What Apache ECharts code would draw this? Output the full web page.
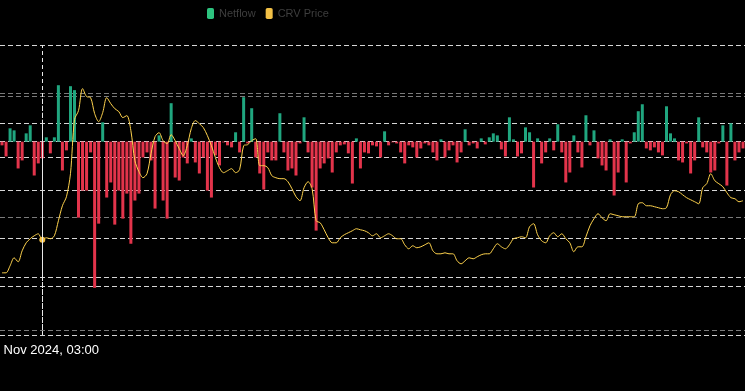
<!DOCTYPE html>
<html><head><meta charset="utf-8">
<script src="https://cdn.jsdelivr.net/npm/echarts@6/dist/echarts.min.js"></script>
<style>html,body{margin:0;padding:0;background:#000;overflow:hidden;}#c{width:775px;height:391px;margin-left:-30px;}</style>
</head><body><div id="c"></div>
<script>
// ---- data ----
const START_UTC = Date.UTC(2024, 10, 20, 17, 0); // first hourly bucket
const HOVER_INDEX = 10;
const seriesNames = ['Netflow', 'CRV Price'];
const netflow = [
-0.38,-1.53,1.38,1.17,-2.77,-1.94,0.86,1.69,-3.50,-2.25,
-1.73,0.45,-1.21,0.45,5.84,-2.98,-0.90,5.74,5.33,-7.86,
-5.06,-5.06,-1.11,-15.12,-8.48,2.00,-5.78,-4.22,-8.58,-5.06,
-7.96,-5.37,-10.56,-6.09,-5.37,-1.63,-1.11,-1.94,-6.92,0.65,
-6.09,-7.96,3.98,-3.71,-4.02,-1.63,-2.25,0.34,-2.15,-3.29,
-1.63,-5.06,-5.78,-1.42,-2.46,-0.07,-0.38,-0.59,0.97,-1.11,
4.60,-0.18,3.46,-1.63,-3.29,-4.95,-1.11,-1.94,-1.94,2.94,
-1.11,-2.98,-2.77,-3.50,-0.18,2.52,-1.11,-4.74,-9.20,-2.77,
-2.25,-1.73,-3.19,-1.11,-0.38,-0.28,-1.21,-4.33,0.34,-2.77,
-1.11,-1.21,-0.38,-0.49,-1.63,1.07,-0.38,-0.07,-0.18,-1.11,
-2.25,-0.38,-0.59,-1.63,-0.70,-0.18,-0.38,-1.11,-1.94,0.24,
-1.63,-0.90,-0.38,-2.15,-1.11,1.28,-0.38,-0.18,-0.70,0.34,
-0.28,0.45,0.86,0.65,-0.80,-1.53,2.52,0.24,-1.53,-1.21,
1.48,0.97,-4.74,0.34,-2.25,-1.11,0.34,-0.90,1.80,-1.11,
-4.22,-3.19,0.65,-1.11,-2.67,2.73,-0.38,1.17,-1.73,-2.46,
-2.98,0.24,-5.57,-3.19,0.24,-4.22,-0.18,0.97,3.15,3.87,
-0.70,-0.90,-0.59,-1.11,-1.42,3.66,0.86,0.34,-1.94,-2.15,
-0.18,-3.29,-1.94,2.52,-0.59,-1.11,-3.19,-2.98,-0.18,1.69,
-4.54,1.90,-1.94,-1.11,-0.70
];
const price = [
0.3094,0.3094,0.3210,0.3342,0.3276,0.3458,0.3590,0.3657,0.3706,0.3739,
0.3640,0.3673,0.3657,0.3706,0.3954,0.4202,0.4351,0.4731,0.5624,0.5773,
0.6137,0.6005,0.5988,0.5724,0.5591,0.5740,0.5988,0.5889,0.5806,0.5757,
0.5658,0.5691,0.5443,0.4946,0.4765,0.4665,0.4731,0.5062,0.5343,0.5409,
0.5277,0.5228,0.5376,0.5277,0.5145,0.5029,0.5194,0.5476,0.5608,0.5558,
0.5492,0.5360,0.5194,0.4996,0.4831,0.4748,0.4781,0.4814,0.4748,0.4798,
0.5194,0.5211,0.5277,0.5310,0.4864,0.4864,0.4831,0.4698,0.4665,0.4649,
0.4649,0.4599,0.4483,0.4351,0.4285,0.4500,0.4599,0.4483,0.3954,0.3921,
0.3805,0.3673,0.3590,0.3590,0.3673,0.3723,0.3756,0.3789,0.3822,0.3805,
0.3789,0.3756,0.3706,0.3739,0.3673,0.3706,0.3739,0.3706,0.3657,0.3657,
0.3557,0.3491,0.3541,0.3508,0.3524,0.3557,0.3590,0.3458,0.3408,0.3408,
0.3425,0.3408,0.3408,0.3293,0.3243,0.3293,0.3342,0.3326,0.3359,0.3392,
0.3408,0.3408,0.3491,0.3574,0.3524,0.3491,0.3557,0.3657,0.3673,0.3690,
0.3673,0.3855,0.3905,0.3723,0.3623,0.3590,0.3706,0.3756,0.3690,0.3739,
0.3657,0.3590,0.3442,0.3524,0.3524,0.3690,0.3871,0.3987,0.4070,0.4004,
0.3954,0.4070,0.4053,0.4037,0.4020,0.4020,0.4020,0.4020,0.4235,0.4252,
0.4202,0.4202,0.4186,0.4169,0.4153,0.4169,0.4384,0.4450,0.4434,0.4384,
0.4335,0.4301,0.4268,0.4235,0.4500,0.4566,0.4731,0.4616,0.4566,0.4516,
0.4417,0.4335,0.4318,0.4268,0.4285
];
const MONTHS = ['Jan','Feb','Mar','Apr','May','Jun','Jul','Aug','Sep','Oct','Nov','Dec'];
function pad(n){return (n<10?'0':'')+n;}
function fmtTime(ts){const d=new Date(ts);return d.getUTCDate()+' '+MONTHS[d.getUTCMonth()]+' '+d.getUTCFullYear()+', '+pad(d.getUTCHours())+':'+pad(d.getUTCMinutes());}
const categories = netflow.map((_, i) => fmtTime(START_UTC + i * 3600000));

// ---- styles ----
const OFF = 30; // chart canvas extends 30px past the left edge of the window (reference is a crop)
const GREEN = '#20a67f', GREEN_LEGEND = '#2dc37f', RED = '#e3344b', YELLOW = '#f2c046';
const BRIGHT = '#d6d6d6', DIM = '#7a7a7a';
const FONT = '"Liberation Sans", Arial, sans-serif';
const hiddenAxisParts = {axisLine:{show:false}, axisTick:{show:false}, axisLabel:{show:false}};

const chart = echarts.init(document.getElementById('c'), null, {renderer:'canvas'});
chart.setOption({
  backgroundColor: '#000',
  animation: false,
  legend: {
    left: 207 + OFF, top: 8, padding: 0, itemWidth: 7, itemHeight: 11, itemGap: 10, icon: 'roundRect',
    textStyle: {color: '#3e3e3e', fontSize: 11, fontFamily: FONT},
    data: [
      {name: seriesNames[0], itemStyle: {color: GREEN_LEGEND}},
      {name: seriesNames[1], itemStyle: {color: YELLOW}}
    ]
  },
  tooltip: {
    trigger: 'axis', showContent: false,
    axisPointer: {type: 'line', lineStyle: {color: '#e8e8e8', width: 1, type: [4, 3]}}
  },
  grid: [
    {left: OFF, right: 0, top: 45, bottom: 56},
    {left: OFF, right: 0, top: 96.7, bottom: 113.3},
    {left: OFF, right: 0, top: 123.3, bottom: 61}
  ],
  xAxis: [
    {type: 'category', gridIndex: 0, data: categories, boundaryGap: true, ...hiddenAxisParts,
     splitLine: {show: false},
     axisPointer: {label: {show: true, color: '#fff', backgroundColor: 'transparent', padding: 0, margin: 9,
       fontSize: 13, fontFamily: FONT}}},
    {type: 'value', gridIndex: 1, min: 0, max: 1, show: false},
    {type: 'value', gridIndex: 2, min: 0, max: 1, show: false}
  ],
  yAxis: [
    {type: 'value', gridIndex: 0, min: -20, max: 10, interval: 5, ...hiddenAxisParts,
     axisPointer: {show: false},
     splitLine: {show: true, lineStyle: {color: [BRIGHT, BRIGHT, BRIGHT, BRIGHT, BRIGHT, DIM, BRIGHT], type: [5, 3], width: 1}}},
    {type: 'value', gridIndex: 0, min: 0.2067, max: 0.6857, show: false, splitLine: {show: false}, axisPointer: {show: false}},
    {type: 'value', gridIndex: 1, min: 0, max: 3, interval: 1, ...hiddenAxisParts,
     splitLine: {show: true, lineStyle: {color: [BRIGHT, DIM, BRIGHT, DIM], type: [5, 3], width: 1}}},
    {type: 'value', gridIndex: 2, min: 0, max: 1, interval: 1, ...hiddenAxisParts,
     splitLine: {show: true, lineStyle: {color: [DIM, BRIGHT], type: [5, 3], width: 1}}}
  ],
  series: [
    {name: seriesNames[0], type: 'bar', xAxisIndex: 0, yAxisIndex: 0, barWidth: 3,
     itemStyle: {color: GREEN}, emphasis: {disabled: true},
     data: netflow.map(v => ({value: v, itemStyle: {color: v >= 0 ? GREEN : RED}}))},
    {name: seriesNames[1], type: 'line', xAxisIndex: 0, yAxisIndex: 1, data: price,
     smooth: 0.3, showSymbol: false, symbol: 'circle', symbolSize: 5,
     lineStyle: {color: YELLOW, width: 1}, itemStyle: {color: YELLOW}, z: 3}
  ]
});
chart.dispatchAction({type: 'showTip', seriesIndex: 1, dataIndex: HOVER_INDEX});
</script>
</body></html>
